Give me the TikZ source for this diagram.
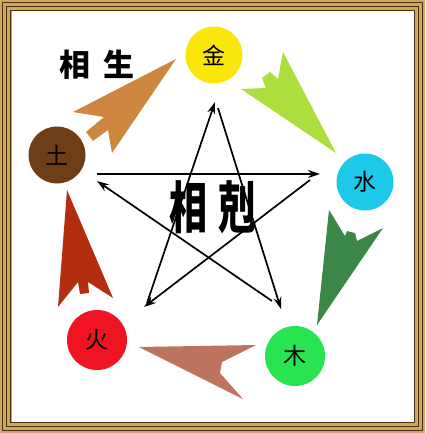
\documentclass[tikz,border=0pt]{standalone}
\usepackage{fontspec}
\newfontfamily\cjk{Noto Sans CJK SC}
\usetikzlibrary{arrows.meta}
\definecolor{cjin}{RGB}{250,230,10}
\definecolor{cshui}{RGB}{30,200,235}
\definecolor{cmu}{RGB}{40,228,80}
\definecolor{chuo}{RGB}{240,20,35}
\definecolor{ctu}{RGB}{112,62,22}
\definecolor{aorange}{RGB}{205,135,62}
\definecolor{alime}{RGB}{172,222,62}
\definecolor{adkgreen}{RGB}{58,135,72}
\definecolor{ared}{RGB}{180,45,15}
\definecolor{apink}{RGB}{190,115,95}
\definecolor{fgold}{RGB}{205,168,92}
\definecolor{fdark}{RGB}{75,48,20}
\tikzset{
  elem/.style={circle, inner sep=0pt, minimum size=#1, font=\cjk\fontsize{23}{23}\selectfont, text=black},
  kearrow/.style={line width=1.7pt, -{Stealth[length=12pt,width=8pt]}},
  framestripe/.style={draw=fdark, line width=1.1pt},
}
\begin{document}
\begin{tikzpicture}[x=1pt,y=-1pt]
\useasboundingbox (0,0) rectangle (425,433);
% frame
\fill[fgold] (0,0) rectangle (425,433);
\draw[framestripe] (2.5,2.5) rectangle (422.5,430.5);
\draw[framestripe] (6.5,6.5) rectangle (418.5,426.5);
\draw[framestripe] (10.5,10.5) rectangle (414.5,422.5);
\fill[white] (11.5,11.5) rectangle (413.5,421.5);
% sheng arrows
\fill[aorange] (176,59) -- (73,112) -- (104,117) -- (86,132) -- (93,141) -- (108,130) -- (112,153) -- cycle;
\fill[alime] (336,153) -- (241,89) -- (266,88) -- (262,78) -- (270,72) -- (278,79) -- (283,52) -- cycle;
\fill[adkgreen] (317,325) -- (329,210) -- (345,236) -- (347,231) -- (355,233) -- (357,241) -- (383,228) -- cycle;
\fill[apink] (139,347) -- (256,345) -- (222,362) -- (220,373) -- (243,399) -- cycle;
\fill[ared] (67,190) -- (113,298) -- (88,282) -- (89,293) -- (80,294) -- (78,282) -- (58,307) -- cycle;
% elements
\node[elem=57pt, fill=cjin] (jin) at (214,55) {金};
\node[elem=57pt, fill=cshui] (shui) at (365,182) {水};
\node[elem=60pt, fill=cmu] (mu) at (295,356) {木};
\node[elem=60pt, fill=chuo] (huo) at (97,340) {火};
\node[elem=57pt, fill=ctu] (tu) at (57,155) {土};
% labels
\node[font=\cjk\bfseries\fontsize{31}{31}\selectfont] (sheng) at (97,65) {相\hspace{13pt}生};
% star points
\coordinate (Ts) at (218,108);
\coordinate (Tt) at (215,102);
\coordinate (Ls) at (97,174);
\coordinate (Lt) at (97,181);
\coordinate (Rs) at (310,180);
\coordinate (Rt) at (320,174);
\coordinate (BLs) at (147,303);
\coordinate (BLt) at (144,307);
\coordinate (BRs) at (272,301);
\coordinate (BRt) at (281,309);
\draw[kearrow] (Ls) -- (Rt);
\draw[kearrow] (Rs) -- (BLt);
\draw[kearrow] (BLs) -- (Tt);
\draw[kearrow] (Ts) -- (BRt);
\draw[kearrow] (BRs) -- (Lt);
\node[font=\cjk\bfseries\fontsize{56}{56}\selectfont, inner sep=0pt] (ke) at (213,207) {\scalebox{0.68}[1]{相\hspace{16pt}剋}};
\end{tikzpicture}
\end{document}
